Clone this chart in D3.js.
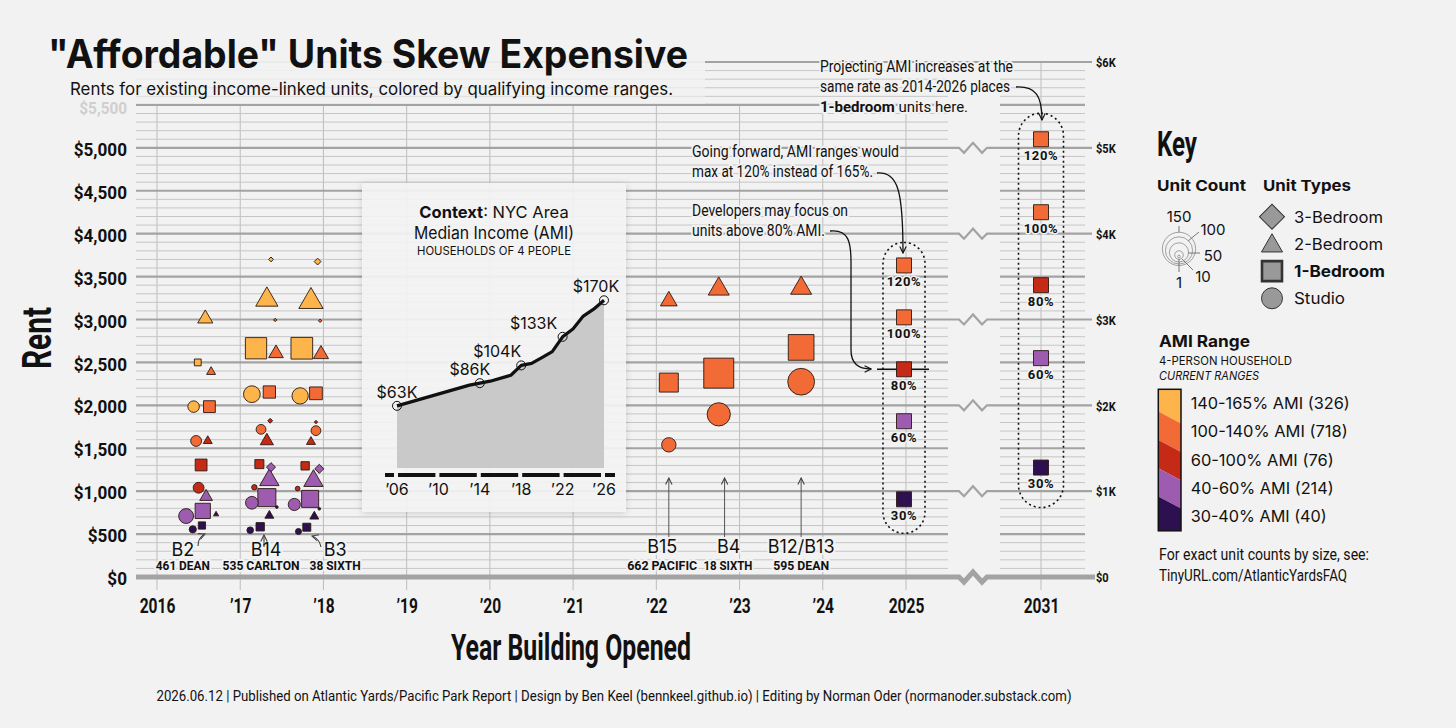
<!DOCTYPE html>
<html>
<head>
<meta charset="utf-8">
<script src="https://cdn.jsdelivr.net/npm/d3@7"></script>
<style>
  body { margin: 0; background: #f2f2f2; }
  svg { display: block; }
</style>
</head>
<body>
<script>
// ---- data ----

var amiBands = ["140-165% AMI", "100-140% AMI", "60-100% AMI", "40-60% AMI", "30-40% AMI"]
var amiTotals = [326, 718, 76, 214, 40]
var amiColors = ["#fdb44b", "#f26a36", "#c52a17", "#9d5cb0", "#2d1050"]

// [year opened (dodged), unit type, AMI band, monthly rent, unit count]
var b2Units = [
  [2016.58, "2BR", 0, 3010, 17], [2016.49, "1BR", 0, 2500, 8], [2016.65, "2BR", 1, 2390, 6],
  [2016.44, "ST", 0, 1985, 18], [2016.63, "1BR", 1, 1985, 24], [2016.47, "ST", 1, 1585, 16],
  [2016.61, "2BR", 2, 1585, 6], [2016.53, "1BR", 2, 1305, 24], [2016.50, "ST", 2, 1040, 16],
  [2016.59, "2BR", 3, 935, 12], [2016.35, "ST", 3, 710, 30], [2016.55, "1BR", 3, 770, 40],
  [2016.71, "2BR", 4, 730, 2], [2016.43, "ST", 4, 555, 7], [2016.54, "1BR", 4, 600, 9]
]
var b14Units = [
  [2017.37, "3BR", 0, 3700, 2], [2017.32, "2BR", 0, 3230, 37], [2017.42, "3BR", 1, 2995, 1],
  [2017.19, "1BR", 0, 2665, 78], [2017.43, "2BR", 1, 2605, 16], [2017.14, "ST", 0, 2130, 38],
  [2017.35, "1BR", 1, 2155, 26], [2017.36, "3BR", 2, 1820, 2], [2017.25, "ST", 1, 1720, 13],
  [2017.32, "2BR", 2, 1585, 13], [2017.23, "1BR", 2, 1315, 14], [2017.37, "3BR", 3, 1280, 7],
  [2017.35, "2BR", 3, 1130, 28], [2017.17, "ST", 2, 1045, 4], [2017.32, "1BR", 3, 925, 56],
  [2017.14, "ST", 3, 865, 22], [2017.44, "ST", 4, 815, 1], [2017.35, "2BR", 4, 715, 6],
  [2017.24, "1BR", 4, 585, 12], [2017.12, "ST", 4, 545, 6]
]
var b3Units = [
  [2017.93, "3BR", 0, 3675, 4], [2017.85, "2BR", 0, 3210, 44], [2017.96, "3BR", 1, 2985, 1],
  [2017.74, "1BR", 0, 2665, 81], [2017.97, "2BR", 1, 2595, 17], [2017.72, "ST", 0, 2110, 36],
  [2017.91, "1BR", 1, 2140, 28], [2017.91, "3BR", 2, 1805, 1], [2017.91, "ST", 1, 1705, 13],
  [2017.85, "2BR", 2, 1575, 6], [2017.78, "1BR", 2, 1295, 12], [2017.95, "3BR", 3, 1260, 7],
  [2017.88, "2BR", 3, 1120, 28], [2017.69, "ST", 2, 1030, 3], [2017.84, "1BR", 3, 910, 50],
  [2017.65, "ST", 3, 845, 20], [2017.95, "ST", 4, 795, 1], [2017.89, "2BR", 4, 705, 6],
  [2017.80, "1BR", 4, 580, 11], [2017.70, "ST", 4, 530, 5]
]
var b15Units = [[2022.15, "2BR", 1, 3215, 21], [2022.15, "1BR", 1, 2265, 62], [2022.15, "ST", 1, 1540, 28]]
var b4Units = [[2022.75, "2BR", 1, 3355, 33], [2022.75, "1BR", 1, 2375, 155], [2022.75, "ST", 1, 1895, 73]]
var b12Units = [[2023.74, "2BR", 1, 3365, 33], [2023.74, "1BR", 1, 2675, 114], [2023.74, "ST", 1, 2275, 97]]

var bldgCodes = ["B2", "B14", "B3", "B15", "B4", "B12/B13"]
var bldgAddrs = ["461 DEAN", "535 CARLTON", "38 SIXTH", "662 PACIFIC", "18 SIXTH", "595 DEAN"]

// projected 1-bedroom rents by AMI level
var projAmi = [120, 100, 80, 60, 30]
var projBand = [1, 1, 2, 3, 4]
var rent2025 = [3630, 3025, 2420, 1815, 905]
var rent2031 = [5100, 4250, 3400, 2550, 1275]

var tickYears = [2016, 2017, 2018, 2019, 2020, 2021, 2022, 2023, 2024, 2025, 2031]
var tickLabels = ["2016", "\u201917", "\u201918", "\u201919", "\u201920", "\u201921", "\u201922", "\u201923", "\u201924", "2025", "2031"]

// inset: NYC area median income, 4-person household ($K)
var amiYears = [2006, 2013, 2014, 2015, 2017, 2018, 2019, 2020, 2021, 2022, 2023, 2024, 2025, 2026]
var amiIncomeK = [63, 84, 86, 88, 94, 104, 106, 112, 118, 133, 141, 154, 161, 170]
var amiLabelYears = [2006, 2014, 2018, 2022, 2026]
var amiLabelText = ["$63K", "$86K", "$104K", "$133K", "$170K"]
var insetTickYears = [2006, 2010, 2014, 2018, 2022, 2026]
var insetTickLabels = ["\u201906", "\u201910", "\u201914", "\u201918", "\u201922", "\u201926"]

var countLegend = [150, 100, 50, 10, 1]
var typeNames = ["3-Bedroom", "2-Bedroom", "1-Bedroom", "Studio"]
var typeCodes = ["3BR", "2BR", "1BR", "ST"]

var footer = "2026.06.12 | Published on Atlantic Yards/Pacific Park Report | Design by Ben Keel (bennkeel.github.io) | Editing by Norman Oder (normanoder.substack.com)"

// ---- drawing ----
var BG = "#f2f2f2"
var SANS = "Inter, 'Noto Sans', sans-serif"
var COND = "Roboto, 'Noto Sans', sans-serif"

var svg = d3.select("body").append("svg").attr("width", 1456).attr("height", 728)

var x = d3.scaleLinear().domain([2016, 2025, 2031]).range([157, 906, 1041])
var y = d3.scaleLinear().domain([0, 6000]).range([577, 62])
var area = d3.scaleLinear().domain([0, 150]).range([0, 870])

function T(g, tx, ty, s, o) {
  o = o || {}
  var t = g.append("text").attr("x", tx).attr("y", ty).text(s)
    .attr("font-family", o.ff || SANS).attr("font-size", o.fs || 14)
    .attr("font-weight", o.fw || "normal").attr("fill", o.fill || "#111")
    .attr("text-anchor", o.anchor || "start")
  if (o.style) t.attr("font-style", o.style)
  if (o.len) t.attr("textLength", o.len).attr("lengthAdjust", "spacingAndGlyphs")
  if (o.halo) t.attr("stroke", BG).attr("stroke-width", o.halo).attr("paint-order", "stroke").attr("stroke-linejoin", "round")
  return t
}
function squeeze(sel, f) {
  sel.each(function() {
    var w = this.getComputedTextLength()
    d3.select(this).attr("textLength", w * f).attr("lengthAdjust", "spacingAndGlyphs")
  })
}
function symPath(type, a) {
  var t = type == "ST" ? d3.symbolCircle : type == "2BR" ? d3.symbolTriangle : d3.symbolSquare
  return d3.symbol().type(t).size(a)()
}

var defs = svg.append("defs")
function arrowMarker(id, col) {
  defs.append("marker").attr("id", id).attr("viewBox", "0 0 10 10").attr("refX", 9).attr("refY", 5)
    .attr("markerWidth", 8).attr("markerHeight", 8).attr("markerUnits", "userSpaceOnUse").attr("orient", "auto")
    .append("path").attr("d", "M1,1 L9,5 L1,9").attr("fill", "none").attr("stroke", col).attr("stroke-width", 1.4)
}
arrowMarker("arr", "#111")
arrowMarker("arrG", "#444")

var fade = defs.append("linearGradient").attr("id", "fade").attr("x1", 0).attr("y1", 0).attr("x2", 0).attr("y2", 1)
fade.append("stop").attr("offset", 0).attr("stop-color", BG).attr("stop-opacity", 0.96)
fade.append("stop").attr("offset", 0.7).attr("stop-color", BG).attr("stop-opacity", 0.9)
fade.append("stop").attr("offset", 1).attr("stop-color", BG).attr("stop-opacity", 0.45)

var shadow = defs.append("filter").attr("id", "shadow").attr("x", "-10%").attr("y", "-10%").attr("width", "120%").attr("height", "120%")
shadow.append("feDropShadow").attr("dx", 0).attr("dy", 1).attr("stdDeviation", 3)
  .attr("flood-color", "#000").attr("flood-opacity", 0.18)

svg.append("rect").attr("width", 1456).attr("height", 728).attr("fill", BG)

// grid
var grid = svg.append("g")
grid.selectAll("line.v").data(tickYears).join("line")
  .attr("x1", d => x(d)).attr("x2", d => x(d))
  .attr("y1", d => d == 2031 ? y(6000) : y(5500)).attr("y2", 590)
  .attr("stroke", "#bdbdbd").attr("stroke-width", 1)

function zig(yy, x0, x1) {
  return "M" + x0 + "," + yy + "H959L964," + (yy + 5) + "L973," + (yy - 5) + "L982," + (yy + 5) + "L987," + yy + "H" + x1
}
d3.range(100, 6001, 100).forEach(function(v) {
  var yy = y(v), major = v % 500 == 0
  var col = major ? "#a3a3a3" : "#c6c6c6", sw = major ? 2.2 : 1
  if (v % 1000 == 0 && v < 6000) {
    grid.append("path").attr("d", zig(yy, 136, 1092)).attr("fill", "none").attr("stroke", col).attr("stroke-width", sw)
  } else if (v == 6000) {
    grid.append("line").attr("x1", 136).attr("x2", 1092).attr("y1", yy).attr("y2", yy).attr("stroke", col).attr("stroke-width", sw)
  } else {
    grid.append("line").attr("x1", 136).attr("x2", 948).attr("y1", yy).attr("y2", yy).attr("stroke", col).attr("stroke-width", sw)
    grid.append("line").attr("x1", 1000).attr("x2", 1085).attr("y1", yy).attr("y2", yy).attr("stroke", col).attr("stroke-width", sw)
  }
})
grid.append("path").attr("d", zig(y(0), 136, 1095)).attr("fill", "none").attr("stroke", "#a3a3a3").attr("stroke-width", 5)

// fade behind title
svg.append("rect").attr("x", 0).attr("y", 0).attr("width", 705).attr("height", 104).attr("fill", "url(#fade)")

// axes
var yg = svg.append("g").attr("transform", "translate(127,0)")
  .call(d3.axisLeft(y).tickValues(d3.range(0, 5501, 500)).tickFormat(d3.format("$,")).tickSize(0).tickPadding(0))
yg.select(".domain").remove()
yg.selectAll("text").attr("dy", d => d == 5500 ? "0.5em" : "0.4em").attr("font-family", COND).attr("font-size", d => d == 5500 ? 17 : 19).attr("font-weight", 700)
  .attr("fill", d => d == 5500 ? "#cfcfcf" : "#111")
squeeze(yg.selectAll("text"), 0.9)

var rg = svg.append("g").attr("transform", "translate(1096,0)")
  .call(d3.axisRight(y).tickValues(d3.range(0, 6001, 1000)).tickFormat(v => v ? "$" + v / 1000 + "K" : "$0").tickSize(0).tickPadding(0))
rg.select(".domain").remove()
rg.selectAll("text").attr("dy", "0.36em").attr("font-family", COND).attr("font-size", 13).attr("font-weight", 700).attr("fill", "#111")
squeeze(rg.selectAll("text"), 0.85)

var xg = svg.append("g").attr("transform", "translate(0,613)")
  .call(d3.axisBottom(x).tickValues(tickYears).tickFormat((d, i) => tickLabels[i]).tickSize(0).tickPadding(0))
xg.select(".domain").remove()
xg.selectAll("text").attr("y", 0).attr("dy", 0).attr("font-family", COND).attr("font-size", 21).attr("font-weight", 700).attr("fill", "#111")
squeeze(xg.selectAll("text"), 0.74)

// titles
T(svg, 48, 68, "\"Affordable\" Units Skew Expensive", {fs: 39, fw: 700, len: 640})
T(svg, 70, 95, "Rents for existing income-linked units, colored by qualifying income ranges.", {fs: 17, len: 603})
T(svg, 0, 0, "Rent", {ff: COND, fs: 40, fw: 700, anchor: "middle", len: 62}).attr("transform", "translate(51,338) rotate(-90)")
T(svg, 571, 660, "Year Building Opened", {ff: COND, fs: 37, fw: 700, anchor: "middle", len: 240})
T(svg, 614, 701, footer, {ff: COND, fs: 15, anchor: "middle", len: 915})

// inset: AMI context
var ix = d3.scaleLinear().domain([2006, 2026]).range([397, 604])
var iy = d3.scaleLinear().domain([0, 170]).range([468, 300.3])
var inset = svg.append("g")
inset.append("rect").attr("x", 362).attr("y", 183).attr("width", 264).attr("height", 329)
  .attr("fill", "#f5f5f5").attr("fill-opacity", 0.9).attr("filter", "url(#shadow)")
var amiPts = amiYears.map((yr, i) => [yr, amiIncomeK[i]])
inset.append("path").datum(amiPts)
  .attr("d", d3.area().x(d => ix(d[0])).y0(iy(0)).y1(d => iy(d[1])))
  .attr("fill", "#c9c9c9")
inset.append("path").datum(amiPts)
  .attr("d", d3.line().x(d => ix(d[0])).y(d => iy(d[1])))
  .attr("fill", "none").attr("stroke", "#111").attr("stroke-width", 3.2).attr("stroke-linejoin", "round")
inset.append("line").attr("x1", 385).attr("x2", 615).attr("y1", 475).attr("y2", 475).attr("stroke", "#111").attr("stroke-width", 4)
inset.selectAll("rect.gap").data(insetTickYears).join("rect")
  .attr("x", d => ix(d) - 3).attr("y", 471).attr("width", 4).attr("height", 8).attr("fill", BG)
inset.selectAll("text.tk").data(insetTickYears).join("text")
  .attr("x", d => ix(d)).attr("y", 495).attr("text-anchor", "middle")
  .attr("font-family", SANS).attr("font-size", 16).attr("fill", "#111")
  .text((d, i) => insetTickLabels[i])
var labelDx = [0, -10, -24, -29, -8]
amiLabelYears.forEach(function(yr, i) {
  var v = amiIncomeK[amiYears.indexOf(yr)]
  inset.append("circle").attr("cx", ix(yr)).attr("cy", iy(v)).attr("r", 4.5)
    .attr("fill", "none").attr("stroke", "#111").attr("stroke-width", 1)
  T(inset, ix(yr) + labelDx[i], iy(v) - 8, amiLabelText[i], {fs: 16, anchor: "middle"})
})
var ctx = T(inset, 494, 218, "", {fs: 16.5, anchor: "middle"})
ctx.append("tspan").attr("font-weight", 700).text("Context")
ctx.append("tspan").text(": NYC Area")
T(inset, 494, 239, "Median Income (AMI)", {fs: 17, anchor: "middle", len: 160})
T(inset, 494, 255, "HOUSEHOLDS OF 4 PEOPLE", {fs: 11.5, anchor: "middle", len: 154})

// unit marks
var allUnits = [].concat(b2Units, b14Units, b3Units, b15Units, b4Units, b12Units)
  .map(r => ({yr: r[0], type: r[1], band: r[2], rent: r[3], n: r[4]}))
  .sort((a, b) => b.n - a.n)
svg.append("g").selectAll("path").data(allUnits).join("path")
  .attr("d", d => symPath(d.type, area(d.n)))
  .attr("transform", d => "translate(" + x(d.yr) + "," + y(d.rent) + ")" + (d.type == "3BR" ? " rotate(45)" : ""))
  .attr("fill", d => amiColors[d.band]).attr("stroke", "#2a1a12").attr("stroke-width", 0.9)

// building labels
var labelYr = [2016.31, 2017.31, 2018.14, 2022.07, 2022.87, 2023.74]
var addrYr = [2016.31, 2017.25, 2018.14, 2022.07, 2022.86, 2023.74]
var addrLen = [54, 77, 51, 70, 49, 56]
bldgCodes.forEach(function(c, i) {
  var top = i < 3
  T(svg, x(labelYr[i]), top ? 556 : 553, c, {fs: 18, anchor: "middle", halo: 4})
  T(svg, x(addrYr[i]), 570, bldgAddrs[i], {ff: COND, fs: 12.5, fw: 700, anchor: "middle", len: addrLen[i], halo: 4})
})
svg.append("path").attr("d", "M198,546 Q198,537 205,534").attr("fill", "none").attr("stroke", "#333").attr("marker-end", "url(#arrG)")
svg.append("path").attr("d", "M264,547 L264,535").attr("fill", "none").attr("stroke", "#333").attr("marker-end", "url(#arrG)")
svg.append("path").attr("d", "M321,547 Q319,538 312,536").attr("fill", "none").attr("stroke", "#333").attr("marker-end", "url(#arrG)")
;[2022.15, 2022.82, 2023.74].forEach(function(yr) {
  svg.append("line").attr("x1", x(yr)).attr("x2", x(yr)).attr("y1", 537).attr("y2", 478)
    .attr("stroke", "#555").attr("stroke-width", 1).attr("marker-end", "url(#arrG)")
})

// projections
function pill(xc, top, bottom, w) {
  svg.append("rect").attr("x", xc - w / 2).attr("y", top).attr("width", w).attr("height", bottom - top).attr("rx", w / 2)
    .attr("fill", "none").attr("stroke", "#111").attr("stroke-width", 1.6).attr("stroke-dasharray", "2,3")
}
pill(x(2025) - 2, y(d3.max(rent2025)) - 23, y(d3.min(rent2025)) + 34, 42)
pill(x(2031), y(d3.max(rent2031)) - 26, y(d3.min(rent2031)) + 40, 45)
svg.append("line").attr("x1", x(2025) - 29).attr("x2", x(2025) + 23)
  .attr("y1", y(rent2025[2])).attr("y2", y(rent2025[2])).attr("stroke", "#111").attr("stroke-width", 1.6)
function projCol(xc, rents) {
  var g = svg.append("g")
  g.selectAll("path").data(rents).join("path")
    .attr("d", symPath("1BR", 225))
    .attr("transform", d => "translate(" + xc + "," + y(d) + ")")
    .attr("fill", (d, i) => amiColors[projBand[i]]).attr("stroke", "#2a1a12").attr("stroke-width", 0.9)
  rents.forEach(function(r, i) {
    T(g, xc, y(r) + 20.5, projAmi[i] + "%", {ff: COND, fs: 13, fw: 700, anchor: "middle", halo: 3})
      .attr("letter-spacing", 0.6)
  })
}
projCol(x(2025) - 2, rent2025)
projCol(x(2031), rent2031)

// annotations
var H = 4
T(svg, 820, 72, "Projecting AMI increases at the", {ff: COND, fs: 16, len: 193, halo: H})
T(svg, 820, 92, "same rate as 2014-2026 places", {ff: COND, fs: 16, len: 190, halo: H})
var l3 = T(svg, 820, 112, "", {ff: COND, fs: 15, halo: H})
l3.append("tspan").attr("font-weight", 700).text("1-bedroom")
l3.append("tspan").text(" units here.")
T(svg, 692, 157, "Going forward, AMI ranges would", {ff: COND, fs: 16, len: 207, halo: H})
T(svg, 692, 177, "max at 120% instead of 165%.", {ff: COND, fs: 16, len: 181, halo: H})
T(svg, 692, 216, "Developers may focus on", {ff: COND, fs: 16, len: 156, halo: H})
T(svg, 692, 236, "units above 80% AMI.", {ff: COND, fs: 16, len: 133, halo: H})
svg.append("path").attr("d", "M1016,87 C1036,86 1042,96 1042,120").attr("fill", "none").attr("stroke", "#111").attr("stroke-width", 1.3).attr("marker-end", "url(#arr)")
svg.append("path").attr("d", "M877,173 C898,172 903,190 903,253").attr("fill", "none").attr("stroke", "#111").attr("stroke-width", 1.3).attr("marker-end", "url(#arr)")
svg.append("path").attr("d", "M830,231 C849,229 851,243 851,262 L851,350 C851,362 857,369 871,369").attr("fill", "none").attr("stroke", "#111").attr("stroke-width", 1.3).attr("marker-end", "url(#arr)")

// ---- key ----
var key = svg.append("g")
T(key, 1157, 156, "Key", {ff: COND, fs: 35, fw: 700, len: 40})
T(key, 1157, 191, "Unit Count", {fs: 15, fw: 700, len: 89})
T(key, 1263, 191, "Unit Types", {fs: 15, fw: 700, len: 88})

countLegend.forEach(function(c) {
  var r = Math.sqrt(area(c) / Math.PI)
  key.append("circle").attr("cx", 1179).attr("cy", 257.2 - 0.5 * r).attr("r", r)
    .attr("fill", "none").attr("stroke", "#8a8a8a").attr("stroke-width", 0.8)
})
var lead = "#777"
key.append("line").attr("x1", 1179).attr("x2", 1179).attr("y1", 226).attr("y2", 232).attr("stroke", lead)
key.append("line").attr("x1", 1188).attr("x2", 1199).attr("y1", 241).attr("y2", 232).attr("stroke", lead)
key.append("line").attr("x1", 1188).attr("x2", 1200).attr("y1", 253).attr("y2", 253).attr("stroke", lead)
key.append("line").attr("x1", 1182).attr("x2", 1193).attr("y1", 259).attr("y2", 270).attr("stroke", lead)
key.append("line").attr("x1", 1179).attr("x2", 1179).attr("y1", 259).attr("y2", 272).attr("stroke", lead)
T(key, 1179, 222, "150", {fs: 15, anchor: "middle"})
T(key, 1213, 235, "100", {fs: 15, anchor: "middle"})
T(key, 1213, 261, "50", {fs: 15, anchor: "middle"})
T(key, 1203, 282, "10", {fs: 15, anchor: "middle"})
T(key, 1179, 288, "1", {fs: 15, anchor: "middle"})

var typeArea = [313, 191, 400, 346]
typeCodes.forEach(function(t, i) {
  var cy = 216.7 + i * 27.2
  key.append("path").attr("d", symPath(t, typeArea[i]))
    .attr("transform", "translate(1272," + (t == "2BR" ? cy + 2 : cy) + ")" + (t == "3BR" ? " rotate(45)" : ""))
    .attr("fill", "#999").attr("stroke", "#333").attr("stroke-width", t == "1BR" ? 2.6 : 1)
  T(key, 1294, cy + 6, typeNames[i], {fs: 16, fw: t == "1BR" ? 700 : "normal", len: t == "ST" ? 51 : (t == "1BR" ? 91 : 89)})
})

// AMI range legend
T(key, 1159, 347, "AMI Range", {fs: 16, fw: 700, len: 91})
T(key, 1159, 365, "4-PERSON HOUSEHOLD", {fs: 11.5, len: 133})
T(key, 1159, 380, "CURRENT RANGES", {fs: 11.5, style: "italic", len: 100})
var barX0 = 1158.3, barX1 = 1181, barTop = 389.3, bandH = 28.3
var amiLens = [159, 157, 143, 143, 136]
amiColors.forEach(function(col, i) {
  var t0 = barTop + i * bandH, t1 = t0 + bandH
  var tl = i == 0 ? t0 : t0 - 6, tr = i == 0 ? t0 : t0 + 6
  var bl = i == 4 ? t1 : t1 - 6, br = i == 4 ? t1 : t1 + 6
  key.append("path").attr("d", "M" + barX0 + "," + tl + "L" + barX1 + "," + tr + "L" + barX1 + "," + br + "L" + barX0 + "," + bl + "Z")
    .attr("fill", col)
  T(key, 1190.7, t0 + bandH / 2 + 5.5, amiBands[i] + " (" + amiTotals[i] + ")", {fs: 16, len: amiLens[i]})
})
key.append("rect").attr("x", barX0).attr("y", barTop).attr("width", barX1 - barX0).attr("height", bandH * 5)
  .attr("fill", "none").attr("stroke", "#111").attr("stroke-width", 1.5)
T(key, 1159, 560, "For exact unit counts by size, see:", {ff: COND, fs: 16, len: 210})
T(key, 1159, 581, "TinyURL.com/AtlanticYardsFAQ", {ff: COND, fs: 16, len: 188})
</script>
</body>
</html>
